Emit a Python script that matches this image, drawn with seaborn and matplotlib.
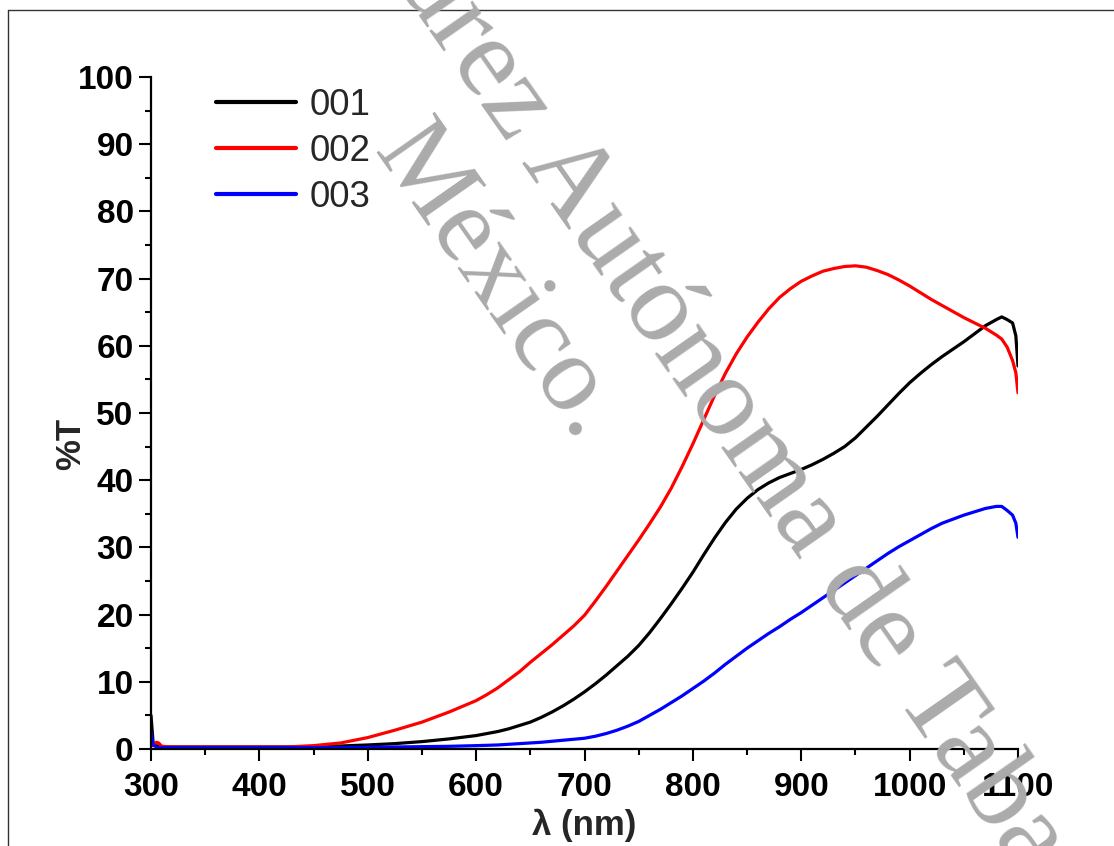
import numpy as np
import pandas as pd
import matplotlib
matplotlib.use("Agg")
import matplotlib.pyplot as plt
from matplotlib.lines import Line2D
import seaborn as sns

# ---- data ----
wavelength = [300, 302, 305, 307, 310, 320, 350, 400, 425, 450, 475, 500, 525, 550, 575,
              600, 610, 620, 630, 640, 650, 660, 670, 680, 690,
              700, 710, 720, 730, 740, 750, 760, 770, 780, 790,
              800, 810, 820, 830, 840, 850, 860, 870, 880, 890,
              900, 910, 920, 930, 940, 950, 960, 970, 980, 990,
              1000, 1010, 1020, 1030, 1040, 1050, 1060, 1070, 1080,
              1085, 1090, 1095, 1098, 1100]
t_001 = [5.0, 0.8, 0.5, 0.4, 0.3, 0.3, 0.3, 0.3, 0.3, 0.35, 0.45, 0.6, 0.8, 1.1, 1.5,
         2.0, 2.3, 2.6, 3.0, 3.5, 4.0, 4.7, 5.5, 6.4, 7.4,
         8.5, 9.7, 11.0, 12.4, 13.8, 15.4, 17.3, 19.4, 21.6, 23.9,
         26.3, 28.9, 31.4, 33.7, 35.7, 37.3, 38.6, 39.6, 40.4, 41.0,
         41.6, 42.3, 43.1, 44.0, 45.0, 46.3, 47.9, 49.5, 51.2, 52.9,
         54.5, 55.9, 57.2, 58.4, 59.5, 60.6, 61.8, 63.0, 63.9,
         64.3, 63.9, 63.4, 61.5, 57.0]
t_002 = [0.6, 0.5, 1.0, 0.9, 0.4, 0.3, 0.3, 0.3, 0.3, 0.5, 0.9, 1.7, 2.8, 4.0, 5.5,
         7.2, 8.1, 9.1, 10.3, 11.5, 12.9, 14.2, 15.5, 16.9, 18.3,
         19.9, 22.0, 24.2, 26.5, 28.8, 31.1, 33.5, 36.0, 38.8, 42.0,
         45.4, 49.0, 52.6, 55.9, 58.8, 61.3, 63.5, 65.5, 67.2, 68.5,
         69.6, 70.4, 71.1, 71.5, 71.8, 71.9, 71.7, 71.2, 70.6, 69.8,
         68.9, 67.9, 66.9, 66.0, 65.1, 64.2, 63.4, 62.6, 61.6,
         61.0, 59.8, 57.8, 56.0, 53.0]
t_003 = [2.5, 0.6, 0.3, 0.2, 0.2, 0.2, 0.2, 0.2, 0.2, 0.2, 0.2, 0.25, 0.3, 0.35, 0.4,
         0.5, 0.55, 0.6, 0.7, 0.8, 0.9, 1.0, 1.15, 1.3, 1.45,
         1.6, 1.9, 2.3, 2.8, 3.4, 4.1, 5.0, 5.9, 6.9, 7.9,
         9.0, 10.1, 11.3, 12.6, 13.8, 15.0, 16.1, 17.2, 18.2, 19.3,
         20.3, 21.4, 22.5, 23.6, 24.7, 25.8, 26.9, 28.0, 29.1, 30.1,
         31.0, 31.9, 32.8, 33.6, 34.2, 34.8, 35.3, 35.8, 36.1,
         36.1, 35.5, 34.8, 33.6, 31.5]
samples = ["001", "002", "003"]
x_ticks = [300, 400, 500, 600, 700, 800, 900, 1000, 1100]
y_ticks = [0, 10, 20, 30, 40, 50, 60, 70, 80, 90, 100]
watermark_1 = "Universidad Juárez Autónoma de Tabasco."
watermark_2 = "México."

df = pd.concat([
    pd.DataFrame({"wl": wavelength, "T": vals, "sample": name})
    for name, vals in zip(samples, [t_001, t_002, t_003])
], ignore_index=True)

sns.set_style("ticks")
plt.rcParams["font.family"] = ["Liberation Sans", "DejaVu Sans"]

W, H = 1114, 846
fig = plt.figure(figsize=(W / 100, H / 100), dpi=100)
ax = fig.add_axes([151 / W, (H - 749) / H, (1018 - 151) / W, (749 - 77) / H])

palette = {"001": "#000000", "002": "#ff0000", "003": "#0000ff"}
sns.lineplot(data=df, x="wl", y="T", hue="sample", hue_order=samples, palette=palette,
             estimator=None, sort=False, linewidth=2.3, ax=ax)

ax.set_xlim(300, 1100)
ax.set_ylim(0, 100)
ax.set_xticks(x_ticks)
ax.set_yticks(y_ticks)
ax.set_xticks(np.arange(350, 1100, 100), minor=True)
ax.set_yticks(np.arange(5, 100, 10), minor=True)
ax.set_xticklabels([str(v) for v in x_ticks], fontsize=24, fontweight="bold")
ax.set_yticklabels([str(v) for v in y_ticks], fontsize=24, fontweight="bold")
ax.tick_params(which="major", direction="out", length=8.5, width=1.5, colors="black")
ax.tick_params(axis="x", which="major", pad=8)
ax.tick_params(axis="y", which="major", pad=4)
ax.tick_params(which="minor", direction="out", length=4.6, width=1.5, colors="black")
for s in ["top", "right"]:
    ax.spines[s].set_visible(False)
for s in ["left", "bottom"]:
    ax.spines[s].set_linewidth(1.6)
    ax.spines[s].set_color("black")

ax.set_xlabel("λ (nm)", fontsize=25, fontweight="bold")
ax.set_ylabel("%T", fontsize=25, fontweight="bold")
ax.xaxis.set_label_coords(0.5, -0.089)
ax.yaxis.set_label_coords(-0.074, 0.454)

leg = ax.legend(loc="upper left", bbox_to_anchor=(216 / W, 1 - 88 / H),
                bbox_transform=fig.transFigure, frameon=False, borderaxespad=0,
                borderpad=0, fontsize=26.5, handlelength=2.17, handletextpad=0.38,
                labelspacing=0.30)
for line in leg.get_lines():
    line.set_linewidth(3)

# watermark (two rotated lines of grey serif text)
wm_color = "#ababab"
ang = 55.0
bx, by = np.cos(np.radians(ang)), np.sin(np.radians(ang))
renderer = fig.canvas.get_renderer()


def text_w(s, size):
    t = fig.text(0, 0, s, fontsize=size, family="Liberation Serif")
    w = t.get_window_extent(renderer).width
    t.remove()
    return w


size1, size2 = 83, 78
prefix = text_w("Universidad Juárez A", size1) - text_w("A", size1)
a_x, a_y = 521, 162          # start of "Autónoma" (pixels from top-left)
s1x, s1y = a_x - prefix * bx, a_y - prefix * by
fig.text(s1x / W, 1 - s1y / H, watermark_1, rotation=-ang, rotation_mode="anchor",
         ha="left", va="baseline", fontsize=size1, family="Liberation Serif",
         color=wm_color, zorder=10)
fig.text(373 / W, 1 - 152 / H, watermark_2, rotation=-ang, rotation_mode="anchor",
         ha="left", va="baseline", fontsize=size2, family="Liberation Serif",
         color=wm_color, zorder=10)

# outer frame
fig.add_artist(Line2D([7.5 / W, 7.5 / W], [0, 1 - 10.5 / H], transform=fig.transFigure,
                      color="#333333", lw=1.0))
fig.add_artist(Line2D([7.5 / W, 1], [1 - 10.5 / H, 1 - 10.5 / H], transform=fig.transFigure,
                      color="#333333", lw=1.0))

fig.savefig("out.png", dpi=100)
